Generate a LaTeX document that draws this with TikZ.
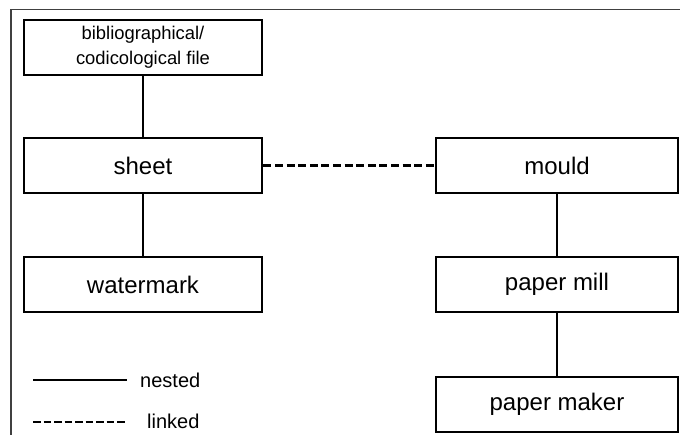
\documentclass[tikz,border=0pt]{standalone}
\usepackage{fontspec}
\setmainfont{Liberation Sans}
\begin{document}
\begin{tikzpicture}[x=1pt,y=-1pt,
  box/.style={draw=black,line width=2.8pt,rectangle,minimum width=238pt,minimum height=55pt,inner sep=0pt,font=\fontsize{24}{26}\selectfont},
  rbox/.style={box,minimum width=242pt},
  nest/.style={draw=black,line width=2.4pt},
  link/.style={draw=black,line width=2.4pt,dash pattern=on 8pt off 3.6pt},
  legtext/.style={anchor=west,font=\fontsize{20}{22}\selectfont,inner sep=0pt}]
\useasboundingbox (0,0) rectangle (680,435);
\draw[line width=1.3pt,black!75] (11,436) -- (11,9.5) -- (681,9.5);
\node[box,font=\fontsize{18.4}{25}\selectfont,align=center] (bib) at (143,47.5) {bibliographical/\\codicological file};
\node[box] (sheet) at (143,165.5) {sheet};
\node[box] (wm) at (143,284.5) {watermark};
\node[rbox] (mould) at (557,165.5) {mould};
\node[rbox] (mill) at (557,284.5) {paper mill};
\node[rbox] (maker) at (557,404.5) {paper maker};
\draw[nest] (bib) -- (sheet);
\draw[nest] (sheet) -- (wm);
\draw[nest] (mould) -- (mill);
\draw[nest] (mill) -- (maker);
\draw[link] (sheet) -- (mould);
\coordinate (n1) at (33,380);
\coordinate (n2) at (127,380);
\coordinate (l1) at (33,422);
\coordinate (l2) at (127,422);
\draw[nest] (n1) -- (n2);
\draw[black,line width=2.4pt,dash pattern=on 7.5pt off 3pt] (l1) -- (l2);
\node[legtext] (nt) at (140,380) {nested};
\node[legtext] (lt) at (147,421) {linked};
\end{tikzpicture}
\end{document}
